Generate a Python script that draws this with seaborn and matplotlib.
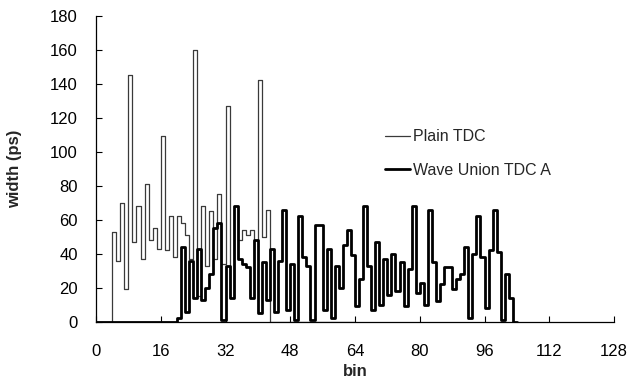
import numpy as np
import pandas as pd
import matplotlib
matplotlib.use("Agg")
import matplotlib.pyplot as plt
import seaborn as sns

# width (ps) per bin, bins start at 0
plain_tdc = [0, 0, 0, 0, 53, 36, 70, 19, 145, 47, 68, 37, 81, 48, 55, 43,
             109, 42, 62, 38, 62, 58, 51, 37, 160, 15, 68, 33, 65, 37, 75, 34,
             127, 14, 68, 48, 54, 51, 54, 48, 142, 50, 66, 0, 0, 0, 0, 0,
             0, 0, 0, 0, 0, 0, 0, 0, 0, 0, 0, 0, 0, 0, 0, 0]
wave_union_a = [0, 0, 0, 0, 0, 0, 0, 0, 0, 0, 0, 0, 0, 0, 0, 0,
                0, 0, 0, 0, 2, 44, 6, 36, 14, 43, 13, 20, 28, 55, 58, 1,
                33, 14, 68, 37, 34, 32, 14, 48, 5, 35, 13, 43, 6, 36, 66, 7,
                34, 1, 62, 38, 33, 1, 57, 57, 7, 43, 2, 33, 20, 45, 54, 39,
                9, 25, 68, 33, 7, 47, 10, 37, 16, 40, 18, 35, 9, 31, 68, 17,
                23, 10, 66, 35, 12, 22, 32, 32, 19, 25, 28, 44, 2, 40, 62, 38,
                8, 42, 66, 41, 1, 28, 14, 0]
x_ticks = [0, 16, 32, 48, 64, 80, 96, 112, 128]
y_ticks = [0, 20, 40, 60, 80, 100, 120, 140, 160, 180]


def step_frame(vals, name):
    edges = np.arange(len(vals) + 1)
    y = list(vals) + [vals[-1]]
    return pd.DataFrame({"bin": edges, "width": y, "series": name})


sns.set_theme(style="white")
plt.rcParams["font.family"] = ["Liberation Sans", "DejaVu Sans"]

fig = plt.figure(figsize=(6.34, 3.85), dpi=100)
ax = fig.add_axes([96 / 634, 1 - 321.7 / 385, 518 / 634, 306 / 385])

d1 = step_frame(plain_tdc, "Plain TDC")
d2 = step_frame(wave_union_a, "Wave Union TDC A")
sns.lineplot(data=d1, x="bin", y="width", drawstyle="steps-post", color="#3a3a3a",
             linewidth=0.9, estimator=None, sort=False, ax=ax, label="Plain TDC")
sns.lineplot(data=d2, x="bin", y="width", drawstyle="steps-post", color="black",
             linewidth=2.0, estimator=None, sort=False, ax=ax, label="Wave Union TDC A")

ax.set_xlim(0, 128)
ax.set_ylim(0, 180)
ax.set_xticks(x_ticks)
ax.set_yticks(y_ticks)
ax.tick_params(direction="in", length=4, width=0.8, labelsize=12, colors="black",
               top=False, right=False, bottom=True, left=True)
ax.tick_params(axis="x", pad=16)
ax.tick_params(axis="y", pad=13)
ax.set_xlabel("bin", fontsize=12, fontweight="bold", labelpad=4)
ax.set_ylabel("width (ps)", fontsize=12, fontweight="bold", labelpad=20)
for s in ["left", "bottom"]:
    ax.spines[s].set_color("black")
    ax.spines[s].set_linewidth(0.9)
for s in ["top", "right"]:
    ax.spines[s].set_visible(False)

ax.legend(loc="upper left", bbox_to_anchor=(0.545, 0.65), frameon=False,
          fontsize=11.5, handlelength=1.6, handletextpad=0.15, labelspacing=1.15,
          borderaxespad=0)

fig.savefig("out.png", dpi=100, facecolor="white")
